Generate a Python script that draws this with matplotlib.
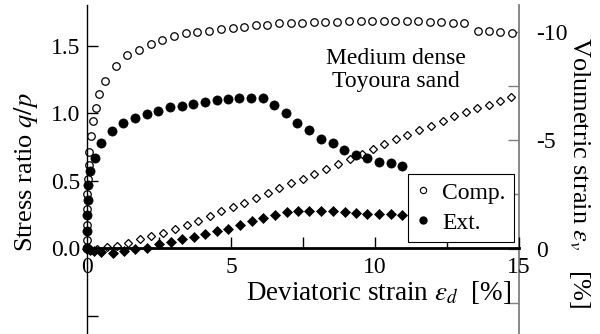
import matplotlib
matplotlib.use('Agg')
import matplotlib.pyplot as plt
from matplotlib.lines import Line2D

# Stress ratio q/p against deviatoric strain [%]
comp_eps_q = [0.0, 0.0, 0.01, 0.01, 0.01, 0.03, 0.06, 0.08, 0.13, 0.22, 0.30, 0.43, 0.64,
              1.00, 1.40, 1.82, 2.21, 2.62, 3.02, 3.43, 3.83, 4.24, 4.64, 5.06, 5.45, 5.86,
              6.26, 6.67, 7.07, 7.48, 7.88, 8.28, 8.69, 9.10, 9.50, 9.90, 10.30, 10.70,
              11.10, 11.50, 11.90, 12.30, 12.70, 13.10, 13.59, 13.97, 14.34, 14.75]
comp_q = [0.0, 0.06, 0.17, 0.29, 0.40, 0.51, 0.62, 0.71, 0.83, 0.94, 1.04, 1.14, 1.24,
          1.35, 1.43, 1.47, 1.51, 1.54, 1.57, 1.59, 1.60, 1.61, 1.62, 1.63, 1.64, 1.65,
          1.655, 1.67, 1.67, 1.67, 1.675, 1.675, 1.675, 1.68, 1.68, 1.68, 1.68, 1.68,
          1.68, 1.68, 1.675, 1.675, 1.67, 1.665, 1.61, 1.61, 1.60, 1.59]

ext_eps_q = [0.0, 0.0, 0.01, 0.02, 0.05, 0.12, 0.27, 0.48, 0.86, 1.26, 1.67, 2.07, 2.48,
             2.88, 3.29, 3.69, 4.10, 4.50, 4.88, 5.29, 5.68, 6.10, 6.50, 6.90, 7.30, 7.71,
             8.11, 8.53, 8.92, 9.33, 9.71, 10.14, 10.55, 10.93]
ext_q = [0.0, 0.13, 0.25, 0.36, 0.47, 0.57, 0.67, 0.78, 0.87, 0.93, 0.965, 0.995, 1.02,
         1.045, 1.055, 1.07, 1.085, 1.10, 1.104, 1.116, 1.116, 1.116, 1.06, 1.0, 0.925,
         0.876, 0.81, 0.78, 0.73, 0.69, 0.67, 0.64, 0.63, 0.61]

# Volumetric strain [%] against deviatoric strain [%]
comp_eps_v = [0.0, 0.05, 0.15, 0.35, 0.68, 1.03, 1.43, 1.84, 2.22, 2.65, 3.06, 3.46, 3.87,
              4.27, 4.67, 5.06, 5.45, 5.86, 6.27, 6.67, 7.08, 7.49, 7.89, 8.30, 8.73, 9.13,
              9.54, 9.92, 10.31, 10.73, 11.12, 11.54, 11.93, 12.35, 12.75, 13.15, 13.55,
              13.95, 14.33, 14.72]
comp_v = [0.0, 0.03, 0.05, 0.03, -0.06, -0.14, -0.25, -0.42, -0.56, -0.71, -0.92, -1.07,
          -1.27, -1.49, -1.72, -1.92, -2.12, -2.34, -2.57, -2.78, -3.01, -3.21, -3.44,
          -3.66, -3.89, -4.13, -4.36, -4.59, -4.84, -5.06, -5.26, -5.46, -5.67, -5.90,
          -6.10, -6.30, -6.48, -6.65, -6.80, -6.98]

ext_eps_v = [0.0, 0.1, 0.25, 0.49, 0.89, 1.28, 1.67, 2.09, 2.50, 2.90, 3.31, 3.70, 4.10,
             4.50, 4.90, 5.31, 5.72, 6.12, 6.53, 6.94, 7.33, 7.72, 8.13, 8.55, 8.96, 9.34,
             9.71, 10.14, 10.55, 10.93]
ext_v = [0.0, 0.05, 0.10, 0.14, 0.19, 0.09, 0.04, -0.03, -0.19, -0.29, -0.42, -0.53, -0.67,
         -0.82, -0.92, -1.07, -1.26, -1.41, -1.53, -1.68, -1.74, -1.74, -1.74, -1.74,
         -1.69, -1.64, -1.61, -1.61, -1.61, -1.55]

plt.rcParams['font.family'] = ['Liberation Serif', 'DejaVu Serif']
plt.rcParams['mathtext.fontset'] = 'stix'
plt.rcParams['font.size'] = 17

fig = plt.figure(figsize = (6, 3.34), dpi = 100, facecolor = 'white')
ax = fig.add_axes([87/600, 1/334, 432/600, 328/334])
ax2 = ax.twinx()

# Volumetric strain on the right (negative = dilation, plotted upward)
ax2.plot(comp_eps_v, comp_v, 'D', ms = 3.9, mfc = 'white', mec = 'black', mew = 0.9, clip_on = False)
ax2.plot(ext_eps_v, ext_v, 'D', ms = 5, mfc = 'black', mec = 'black', mew = 0.5, clip_on = False)

# Stress ratio on the left
ax.plot(comp_eps_q, comp_q, 'o', ms = 5.4, mfc = 'white', mec = 'black', mew = 0.9, clip_on = False)
ax.plot(ext_eps_q, ext_q, 'o', ms = 6.6, mfc = 'black', mec = 'black', mew = 0.5, clip_on = False)

ax.set_zorder(ax2.get_zorder() + 1)
ax.patch.set_visible(False)

ax.set_xlim(0, 15)
ax.set_ylim(-0.625, 1.8)
ax2.set_ylim(3.9, -11.25)

# Spines
ax.spines['top'].set_visible(False)
ax.spines['right'].set_visible(False)
ax.spines['bottom'].set_position(('data', 0))
ax.spines['bottom'].set_linewidth(2)
ax.spines['left'].set_linewidth(1)
for s in ['top', 'left', 'bottom']:
    ax2.spines[s].set_visible(False)
ax2.spines['right'].set_color('#7f7f7f')
ax2.spines['right'].set_linewidth(1.3)

# Ticks
ax.set_xticks([0, 5, 10, 15])
ax.set_xticks([2.5, 7.5, 12.5], minor = True)
ax.set_xticklabels(['0', '5', '10', '15'])
ax.set_yticks([0, 0.5, 1.0, 1.5])
ax.set_yticks([-0.5], minor = True)
ax.set_yticklabels(['0.0', '0.5', '1.0', '1.5'])
ax.tick_params(axis = 'x', which = 'both', direction = 'in', length = 8, width = 1, pad = 6)
ax.tick_params(axis = 'y', which = 'both', direction = 'in', length = 8, width = 1, pad = 5)

ax2.set_yticks([-10, -5, 0])
ax2.set_yticks([-7.5, -2.5, 2.5], minor = True)
ax2.set_yticklabels(['-10', '-5', '0'])
ax2.tick_params(axis = 'y', which = 'both', direction = 'in', length = 8, width = 1,
                color = '#7f7f7f', pad = 12)

# Axis labels
ax.text(-0.141, 0.49, 'Stress ratio $q/p$', transform = ax.transAxes, rotation = 90,
        ha = 'center', va = 'center', fontsize = 19)
ax.text(1.141, 0.488, r'Volumetric strain $\varepsilon_{v}\quad$[%]', transform = ax.transAxes,
        rotation = -90, ha = 'center', va = 'center', fontsize = 19)
ax.text(0.676, 0.122, r'Deviatoric strain $\varepsilon_{d}$  [%]', transform = ax.transAxes,
        ha = 'center', va = 'center', fontsize = 19.5)

ax.text(0.715, 0.802, 'Medium dense\nToyoura sand', transform = ax.transAxes,
        ha = 'center', va = 'center', multialignment = 'center', linespacing = 1.15)

# Legend
handles = [Line2D([], [], ls = 'none', marker = 'o', ms = 4.5, mfc = 'white', mec = 'black', mew = 0.8, label = 'Comp.'),
           Line2D([], [], ls = 'none', marker = 'o', ms = 5, mfc = 'black', mec = 'black', label = 'Ext.')]
leg = ax.legend(handles = handles, loc = 'upper right', bbox_to_anchor = (0.988, 0.485),
                borderaxespad = 0, fancybox = False, framealpha = 1, edgecolor = 'black',
                handlelength = 0.6, handletextpad = 0.5, borderpad = 0.35, labelspacing = 0.35)
leg.get_frame().set_linewidth(0.8)

plt.savefig('out.png', dpi = 100)
